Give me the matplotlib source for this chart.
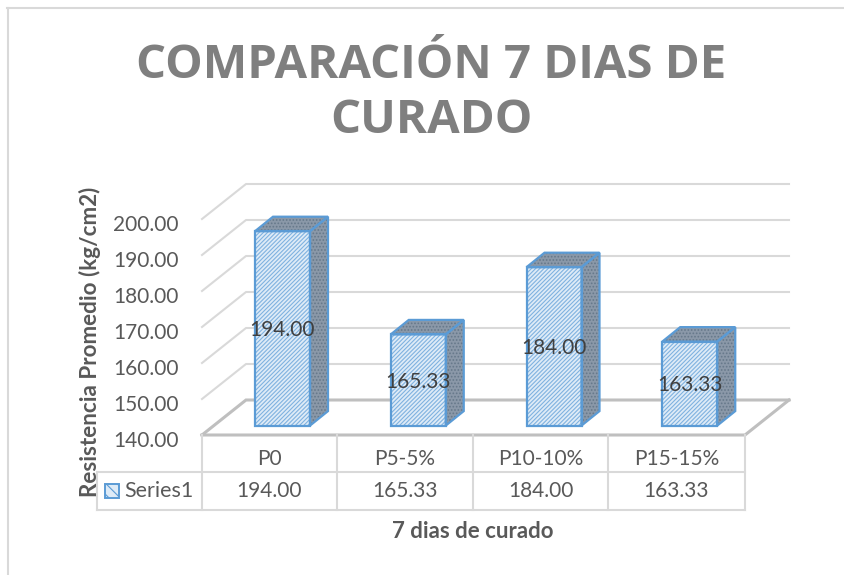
import numpy as np
import matplotlib
matplotlib.use('Agg')
import matplotlib.pyplot as plt
from matplotlib.patches import Polygon, Rectangle

categories = ['P0', 'P5-5%', 'P10-10%', 'P15-15%']
values = [194.00, 165.33, 184.00, 163.33]
y_ticks = [140, 150, 160, 170, 180, 190, 200]
series_name = 'Series1'
title = 'COMPARACIÓN 7 DIAS DE\nCURADO'
x_label = '7 dias de curado'
y_label = 'Resistencia Promedio (kg/cm2)'

W, H = 845, 575
plt.rcParams['font.family'] = ['Lato', 'DejaVu Sans']
plt.rcParams['hatch.linewidth'] = 0.8

fig = plt.figure(figsize=(W / 100, H / 100), dpi=100)
# front plane of the floor: x 202-745 px, value 140 at 435 px, 200 at 219 px
ax = fig.add_axes([202 / W, 1 - 435 / H, 543 / W, 216 / H])
ax.set_xlim(-0.5, 3.5)
ax.set_ylim(140, 200)
ax.axis('off')

px_x = 4 / 543
px_y = 60 / 216
depth_x = 44 * px_x
depth_y = 35 * px_y
grid_c = '#d9d9d9'
floor_c = '#bfbfbf'
blue = '#5b9bd5'

# back wall gridlines and left wall diagonals
for v in y_ticks:
    xs = [-0.5, -0.5 + depth_x, 3.5 + depth_x]
    ys = [v, v + depth_y, v + depth_y]
    if v == 140:
        ax.plot(xs, ys, color=floor_c, lw=2.2, clip_on=False, solid_joinstyle='miter')
    else:
        ax.plot(xs, ys, color=grid_c, lw=1.5, clip_on=False)
    ax.text(-0.5 - 23 * px_x, v - 6 * px_y, f'{v:.2f}', ha='right', va='center', fontsize=15, color='#595959')

# floor front and right edge
ax.plot([-0.5, 3.5, 3.5 + depth_x], [140, 140, 140 + depth_y], color=floor_c, lw=2.2,
        clip_on=False, solid_joinstyle='miter')

# bars
bar_w = 55 * px_x
bar_dx = 18 * px_x
bar_dy = 14.5 * px_y
base = 140 + 9.4 * px_y
for i, (c, v) in enumerate(zip(categories, values)):
    x0 = i - 0.5 + 53 * px_x
    x1 = x0 + bar_w
    top = v + 9.4 * px_y
    front = [(x0, base), (x1, base), (x1, top), (x0, top)]
    side = [(x1, base), (x1 + bar_dx, base + bar_dy), (x1 + bar_dx, top + bar_dy), (x1, top)]
    roof = [(x0, top), (x1, top), (x1 + bar_dx, top + bar_dy), (x0 + bar_dx, top + bar_dy)]
    ax.add_patch(Polygon(front, facecolor='#deebf7', edgecolor='#7fb2e0', hatch='////////', lw=0, clip_on=False, zorder=3))
    for pts in (side, roof):
        ax.add_patch(Polygon(pts, facecolor='#8a98a8', edgecolor='#66788a', hatch='.....', lw=0, clip_on=False, zorder=3))
    for pts in (front, side, roof):
        ax.add_patch(Polygon(pts, fill=False, edgecolor=blue, lw=1.6, clip_on=False, zorder=4))
    ax.text((x0 + x1) / 2, (base + top) / 2 - 0.5, f'{v:.2f}', ha='center', va='center',
            fontsize=15, color='#404040', zorder=5)

# data table below the axes
tr = fig.transFigure
def hline(x0, x1, y):
    fig.add_artist(plt.Line2D([x0 / W, x1 / W], [1 - y / H, 1 - y / H], color=grid_c, lw=1.5))
def vline(x, y0, y1):
    fig.add_artist(plt.Line2D([x / W, x / W], [1 - y0 / H, 1 - y1 / H], color=grid_c, lw=1.5))

cells = [202, 337, 473, 608, 745]
hline(97, 745, 472)
hline(97, 745, 510)
vline(97, 472, 510)
for x in cells:
    vline(x, 435, 510)
for i, c in enumerate(categories):
    cx = (cells[i] + cells[i + 1]) / 2
    fig.text(cx / W, 1 - 459 / H, c, ha='center', va='center', fontsize=15, color='#595959')
    fig.text(cx / W, 1 - 491 / H, f'{values[i]:.2f}', ha='center', va='center', fontsize=15, color='#595959')

# legend key
fig.add_artist(Rectangle((105 / W, 1 - 498 / H), 14 / W, 14 / H, transform=tr, facecolor='#deebf7',
                         edgecolor=blue, hatch='\\\\\\', lw=1.4))
fig.text(124 / W, 1 - 491 / H, series_name, ha='left', va='center', fontsize=15.5, color='#595959')

# titles
fig.text(431 / W, 1 - 93 / H, title, ha='center', va='center', fontsize=34, fontweight='bold',
         family=['Open Sans', 'DejaVu Sans'], color='#7f7f7f', linespacing=1.2)
fig.text(473 / W, 1 - 532 / H, x_label, ha='center', va='center', fontsize=16, fontweight='bold', color='#595959')
fig.text(90 / W, 1 - 342 / H, y_label, ha='center', va='center', rotation=90, fontsize=16.2,
         fontweight='bold', color='#595959')

# chart frame, only top and left edges are visible
fig.add_artist(plt.Line2D([7 / W, 1], [1 - 8 / H, 1 - 8 / H], color=grid_c, lw=1.5))
fig.add_artist(plt.Line2D([8 / W, 8 / W], [1 - 8 / H, 0], color=grid_c, lw=1.5))

fig.savefig('out.png', dpi=100)
